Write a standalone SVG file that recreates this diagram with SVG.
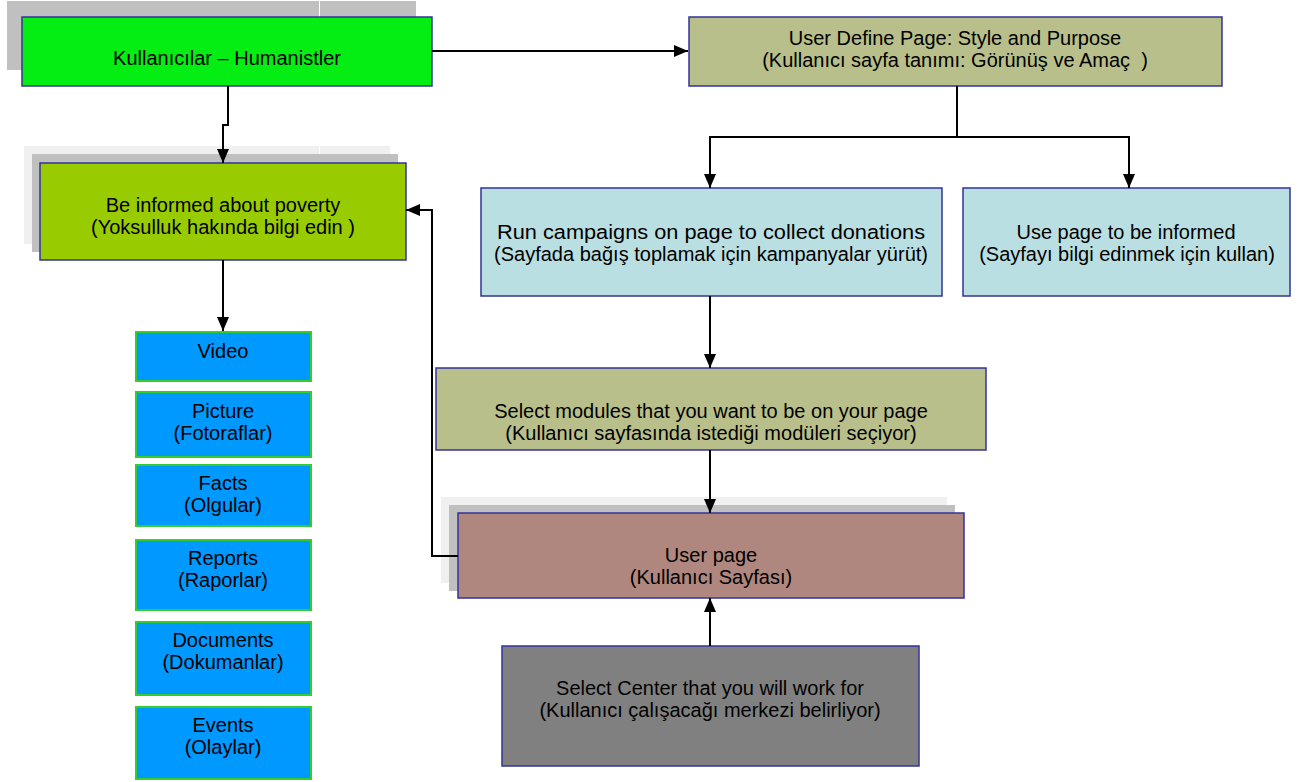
<svg xmlns="http://www.w3.org/2000/svg" width="1303" height="782" viewBox="0 0 1303 782">
<defs>
<style>
text{font-family:"Liberation Sans",Arial,sans-serif;font-size:20px;fill:#000;text-anchor:middle;white-space:pre}
.b{stroke:#333399;stroke-width:1.5}
.blue{fill:#0099ff;stroke:#33cc33;stroke-width:2}
.c{fill:none;stroke:#000;stroke-width:2}
.sh1{fill:#f0f0f0}
.sh2{fill:#c0c0c0}
</style>
<marker id="ah" viewBox="0 0 14 12" refX="14" refY="6" markerWidth="14" markerHeight="12" markerUnits="userSpaceOnUse" orient="auto">
<path d="M0,0 L14,6 L0,12 Z" fill="#000"/>
</marker>
</defs>
<rect width="1303" height="782" fill="#fff"/>
<g id="n-kullanicilar">
<rect class="sh2" x="7" y="1" width="409" height="69"/>
<line x1="319.5" y1="1" x2="319.5" y2="17" stroke="#fff" stroke-width="1"/>
<rect class="b" x="22" y="17" width="410" height="69" fill="#04ee14"/>
<text x="227" y="65">Kullanıcılar – Humanistler</text>
</g>
<g id="n-userdefine">
<rect class="b" x="689" y="17" width="533" height="69" fill="#b8bf8a"/>
<text x="955" y="45">User Define Page: Style and Purpose</text>
<text x="955" y="67">(Kullanıcı sayfa tanımı: Görünüş ve Amaç  )</text>
</g>
<g id="n-informed">
<rect class="sh1" x="24" y="146" width="366" height="98"/>
<line x1="319.5" y1="146" x2="319.5" y2="154" stroke="#fff" stroke-width="1"/>
<rect class="sh2" x="32" y="154" width="366" height="98"/>
<rect class="b" x="40" y="163" width="366" height="97" fill="#99cc00"/>
<text x="223" y="212">Be informed about poverty</text>
<text x="223" y="234">(Yoksulluk hakında bilgi edin )</text>
</g>
<g id="n-campaigns">
<rect class="b" x="481" y="188" width="461" height="108" fill="#badfe2"/>
<text x="711" y="239" textLength="428" lengthAdjust="spacingAndGlyphs">Run campaigns on page to collect donations</text>
<text x="711" y="261" textLength="434" lengthAdjust="spacingAndGlyphs">(Sayfada bağış toplamak için kampanyalar yürüt)</text>
</g>
<g id="n-usepage">
<rect class="b" x="963" y="188" width="327" height="108" fill="#badfe2"/>
<text x="1126" y="239">Use page to be informed</text>
<text x="1127" y="261">(Sayfayı bilgi edinmek için kullan)</text>
</g>
<g id="n-modules">
<rect class="b" x="436" y="368" width="550" height="82" fill="#b8bf8a"/>
<text x="711" y="418">Select modules that you want to be on your page</text>
<text x="711" y="440">(Kullanıcı sayfasında istediği modüleri seçiyor)</text>
</g>
<g id="n-userpage">
<rect class="sh1" x="441" y="497" width="506" height="86"/>
<rect class="sh2" x="449" y="505" width="506" height="86"/>
<rect class="b" x="458" y="513" width="506" height="85" fill="#b0877e"/>
<text x="711" y="562">User page</text>
<text x="711" y="584">(Kullanıcı Sayfası)</text>
</g>
<g id="n-center">
<rect class="b" x="502" y="646" width="417" height="120" fill="#808080"/>
<text x="710" y="695">Select Center that you will work for</text>
<text x="710" y="717">(Kullanıcı çalışacağı merkezi belirliyor)</text>
</g>
<g id="n-video"><rect class="blue" x="136" y="332" width="175" height="49"/><text x="223" y="358">Video</text></g>
<g id="n-picture"><rect class="blue" x="136" y="392" width="175" height="65"/><text x="223" y="418">Picture</text><text x="223" y="440">(Fotoraflar)</text></g>
<g id="n-facts"><rect class="blue" x="136" y="465" width="175" height="61"/><text x="223" y="490">Facts</text><text x="223" y="512">(Olgular)</text></g>
<g id="n-reports"><rect class="blue" x="136" y="540" width="175" height="70"/><text x="223" y="565">Reports</text><text x="223" y="587">(Raporlar)</text></g>
<g id="n-documents"><rect class="blue" x="136" y="622" width="175" height="73"/><text x="223" y="647">Documents</text><text x="223" y="669">(Dokumanlar)</text></g>
<g id="n-events"><rect class="blue" x="136" y="707" width="175" height="72"/><text x="223" y="732">Events</text><text x="223" y="754">(Olaylar)</text></g>
<g id="connectors">
<polyline class="c" points="432,51 688,51" marker-end="url(#ah)"/>
<polyline class="c" points="228,86 228,125 223,125 223,163" marker-end="url(#ah)"/>
<polyline class="c" points="223,260 223,331" marker-end="url(#ah)"/>
<polyline class="c" points="957,86 957,137 710,137 710,188" marker-end="url(#ah)"/>
<polyline class="c" points="957,137 1129,137 1129,188" marker-end="url(#ah)"/>
<polyline class="c" points="710,296 710,368" marker-end="url(#ah)"/>
<polyline class="c" points="710,450 710,513" marker-end="url(#ah)"/>
<polyline class="c" points="710,646 710,598" marker-end="url(#ah)"/>
<polyline class="c" points="458,556 432,556 432,210 406,210" marker-end="url(#ah)"/>
</g>
</svg>
